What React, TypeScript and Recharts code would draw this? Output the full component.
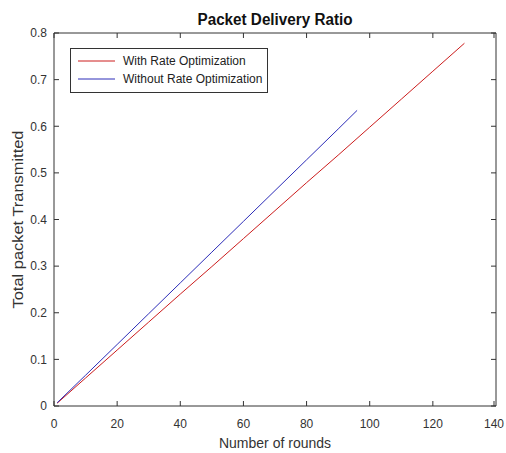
import React from "react"
import { LineChart, Line, XAxis, YAxis, Legend, Label } from "recharts"

const withRounds = [1, 10, 20, 30, 40, 50, 60, 70, 80, 90, 100, 110, 120, 130]
const withRatio = [0.006, 0.06, 0.12, 0.18, 0.24, 0.299, 0.359, 0.419, 0.479, 0.538, 0.598, 0.658, 0.718, 0.778]
const withoutRounds = [1, 10, 20, 30, 40, 50, 60, 70, 80, 90, 96]
const withoutRatio = [0.007, 0.066, 0.132, 0.198, 0.264, 0.33, 0.396, 0.462, 0.528, 0.594, 0.634]

const xTicks = [0, 20, 40, 60, 80, 100, 120, 140]
const yTicks = [0, 0.1, 0.2, 0.3, 0.4, 0.5, 0.6, 0.7, 0.8]

const withData = withRounds.map((r, i) => ({ round: r, ratio: withRatio[i] }))
const withoutData = withoutRounds.map((r, i) => ({ round: r, ratio: withoutRatio[i] }))

const FONT = "Arial, 'Liberation Sans', sans-serif"
const INK = "#333333"
const RED = "#cc1c1c"
const BLUE = "#2c2cb8"
const TS = 5 // recharts' tickSize (outward offset of the label position)
const BOTTOM_GAP = 8
const LEFT_GAP = 2

// matlab style: tick marks point into the plot. recharts hands us the label
// position, which sits TS + gap away from the axis line
const BottomTick = ({ x, y, payload }: any) => {
  const axisY = y - BOTTOM_GAP - TS
  return (
    <g>
      <line x1={x} x2={x} y1={axisY} y2={axisY - TS} stroke={INK} />
      <text x={x} y={y} dy="0.71em" textAnchor="middle" fill={INK} fontSize={12} fontFamily={FONT}>
        {payload.value}
      </text>
    </g>
  )
}

const LeftTick = ({ x, y, payload }: any) => {
  const axisX = x + LEFT_GAP + TS
  return (
    <g>
      <line x1={axisX} x2={axisX + TS} y1={y} y2={y} stroke={INK} />
      <text x={x} y={y} dy="0.355em" textAnchor="end" fill={INK} fontSize={12} fontFamily={FONT}>
        {payload.value === 0 ? "0" : payload.value.toFixed(1)}
      </text>
    </g>
  )
}

const TopTick = ({ x, y }: any) => <line x1={x} x2={x} y1={y + TS} y2={y + 2 * TS} stroke={INK} />
const RightTick = ({ x, y }: any) => <line x1={x - TS} x2={x - 2 * TS} y1={y} y2={y} stroke={INK} />

function LegendBox({ payload }: any) {
  return (
    <div
      style={{
        width: 196,
        height: 40,
        border: `1px solid ${INK}`,
        background: "#fff",
        paddingTop: 3,
        boxSizing: "content-box",
        fontFamily: FONT,
        fontSize: 12,
        color: "#222",
      }}
    >
      {(payload || []).map((p: any) => (
        <div key={p.value} style={{ display: "flex", alignItems: "center", height: 18 }}>
          <svg width={52} height={4} style={{ flex: "none" }}>
            <line x1={7} x2={44} y1={2} y2={2} stroke={p.color} strokeWidth={1} />
          </svg>
          <span style={{ whiteSpace: "nowrap" }}>{p.value}</span>
        </div>
      ))}
    </div>
  )
}

export default function App() {
  return (
    <div style={{ position: "absolute", left: 0, top: 0, width: 506, height: 453, background: "#fff" }}>
      <LineChart width={506} height={453} margin={{ top: 32, right: 9, bottom: 0, left: 0 }}>
        <XAxis
          dataKey="round"
          type="number"
          domain={[0, 140]}
          ticks={xTicks}
          height={47}
          stroke={INK}
          tickLine={false}
          tickSize={TS}
          tickMargin={BOTTOM_GAP}
          tick={<BottomTick />}
          allowDuplicatedCategory={false}
        >
          <Label
            content={({ viewBox }: any) => (
              <text
                x={viewBox.x + viewBox.width / 2}
                y={448}
                textAnchor="middle"
                fill={INK}
                fontSize={14}
                fontFamily={FONT}
              >
                Number of rounds
              </text>
            )}
          />
        </XAxis>
        <XAxis
          xAxisId="top"
          orientation="top"
          dataKey="round"
          type="number"
          domain={[0, 140]}
          ticks={xTicks}
          height={1}
          stroke={INK}
          tickLine={false}
          tickSize={TS}
          tickMargin={0}
          tick={<TopTick />}
          allowDuplicatedCategory={false}
        >
          <Label
            content={({ viewBox }: any) => (
              <text
                x={viewBox.x + viewBox.width / 2}
                y={25}
                textAnchor="middle"
                fill="#111"
                fontSize={16}
                fontWeight="bold"
                fontFamily={FONT}
                textLength={155}
                lengthAdjust="spacingAndGlyphs"
              >
                Packet Delivery Ratio
              </text>
            )}
          />
        </XAxis>
        <YAxis
          type="number"
          domain={[0, 0.8]}
          ticks={yTicks}
          width={54}
          stroke={INK}
          tickLine={false}
          tickSize={TS}
          tickMargin={LEFT_GAP}
          tick={<LeftTick />}
        >
          <Label
            content={({ viewBox }: any) => {
              const cy = viewBox.y + viewBox.height / 2
              return (
                <text
                  x={23}
                  y={cy}
                  transform={`rotate(-90 23 ${cy})`}
                  textAnchor="middle"
                  fill={INK}
                  fontSize={14}
                  fontFamily={FONT}
                  textLength={178}
                  lengthAdjust="spacingAndGlyphs"
                >
                  Total packet Transmitted
                </text>
              )
            }}
          />
        </YAxis>
        <YAxis
          yAxisId="right"
          orientation="right"
          type="number"
          domain={[0, 0.8]}
          ticks={yTicks}
          width={1}
          stroke={INK}
          tickLine={false}
          tickSize={TS}
          tickMargin={0}
          tick={<RightTick />}
        />
        <Legend
          layout="horizontal"
          verticalAlign="middle"
          align="center"
          content={<LegendBox />}
          wrapperStyle={{ position: "absolute", left: 70, top: 48, width: 200, height: 44 }}
        />
        <Line
          data={withData}
          dataKey="ratio"
          name="With Rate Optimization"
          type="linear"
          stroke={RED}
          strokeWidth={1}
          dot={false}
          isAnimationActive={false}
        />
        {/* same scales as the bottom/left axes; bound to top/right so those axes get drawn */}
        <Line
          data={withoutData}
          dataKey="ratio"
          xAxisId="top"
          yAxisId="right"
          name="Without Rate Optimization"
          type="linear"
          stroke={BLUE}
          strokeWidth={1}
          dot={false}
          isAnimationActive={false}
        />
      </LineChart>
    </div>
  )
}
